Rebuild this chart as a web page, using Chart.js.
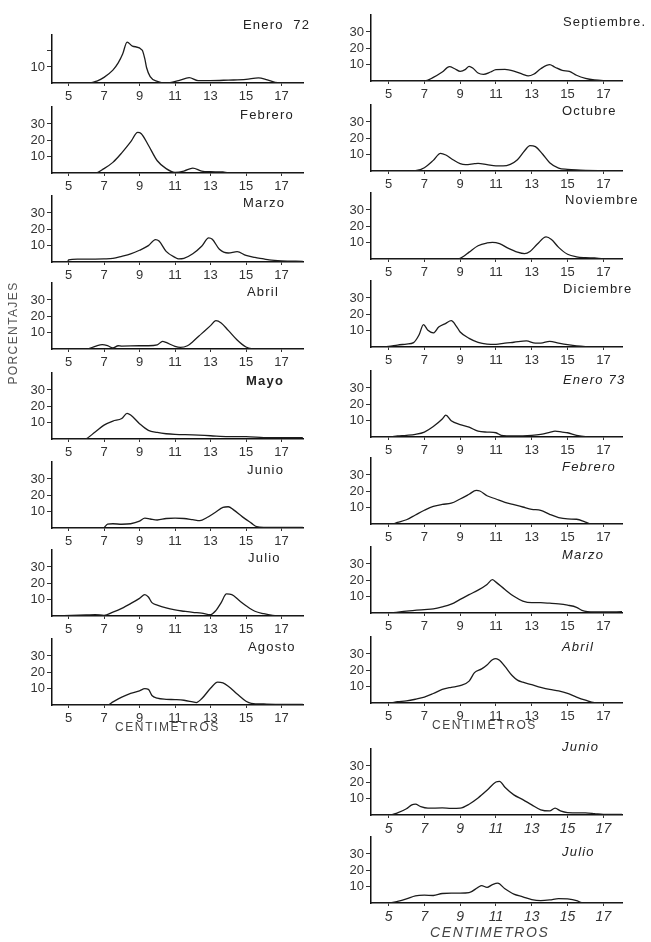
<!DOCTYPE html>
<html><head><meta charset="utf-8">
<script src="https://cdn.jsdelivr.net/npm/chart.js@4.4.0/dist/chart.umd.min.js"></script>
<style>
html,body{margin:0;padding:0;background:#fff;}
#page{position:relative;width:651px;height:942px;overflow:hidden;font-family:"Liberation Sans",Arial,sans-serif;color:#222;}
#page canvas{position:absolute;}
.t{position:absolute;font-size:13px;line-height:16px;letter-spacing:1.2px;white-space:pre;color:#222;}
.it{font-style:italic;}
</style></head><body><div id="page"></div>
<script>
// ---- tick values ----
const xTickValues = [5, 7, 9, 11, 13, 15, 17];
const yTickValues = [10, 20, 30];
const yTickValuesShort = [10, 20];

// ---- series (x = cm, y = %) ----
const enero72X = [4.1, 6.2, 6.6, 7, 7.5, 7.8, 8.05, 8.3, 8.6, 9.15, 9.3, 9.4, 9.6, 10, 10.5, 11.2, 11.8, 12.3, 13, 14, 15, 15.7, 16.2, 16.8, 18.2];
const enero72Y = [0, 0, 1.2, 3.5, 8, 12.5, 18, 25.5, 23, 20.5, 15, 9.5, 4, 1, 0, 1.5, 3.3, 1.5, 1.5, 1.8, 2.2, 3.2, 2, 0.2, 0];

const febrero72X = [4.1, 6.5, 7, 7.5, 8, 8.5, 8.9, 9.1, 9.5, 10, 10.5, 11, 11.5, 12, 12.5, 13, 13.7, 14, 18.2];
const febrero72Y = [0, 0, 2.7, 6.5, 12.3, 19, 24.8, 24, 17, 7.5, 2.7, 0.4, 1.2, 3, 1.2, 0.8, 0.6, 0, 0];

const marzo72X = [4.1, 4.95, 5, 5.5, 6, 7, 7.5, 8, 8.5, 9, 9.5, 9.9, 10.1, 10.5, 11, 11.2, 11.5, 12, 12.5, 12.9, 13.1, 13.5, 14, 14.5, 15, 15.5, 16, 16.3, 17, 18.2];
const marzo72Y = [0, 0, 1.3, 1.7, 1.7, 1.9, 2.2, 3.5, 5, 7.2, 10, 13.7, 12.8, 6.5, 2.8, 1.9, 2.2, 5, 9.6, 14.8, 13.9, 7.8, 5.5, 6.3, 4, 2.8, 1.9, 1.3, 0.7, 0.4];

const abril72X = [4.1, 6, 6.5, 6.9, 7.2, 7.5, 7.8, 8, 9, 9.5, 10, 10.3, 10.5, 11, 11.3, 11.7, 12, 12.5, 13, 13.3, 13.6, 14, 14.5, 15, 15.3, 16, 18.2];
const abril72Y = [0, 0, 1.6, 2.7, 2, 0.6, 2, 1.8, 2, 2, 2.5, 4.7, 4, 1.6, 1, 2, 4.5, 9.4, 14.3, 17.3, 15.9, 11.4, 5.5, 1.2, 0.2, 0, 0];

const mayo72X = [4.1, 5.9, 6.5, 7, 7.5, 8, 8.3, 8.5, 9, 9.5, 10, 10.5, 11, 12, 13, 14, 15, 16, 17, 18.2];
const mayo72Y = [0, 0, 4.3, 8.5, 11, 12.5, 15.7, 14.7, 9.4, 5.3, 4, 3.2, 2.8, 2.5, 2, 1.5, 1.5, 0.9, 0.8, 0.8];

const junio72X = [4.1, 6.95, 7.2, 7.5, 8, 8.5, 9, 9.3, 9.6, 10, 10.5, 11, 11.5, 12, 12.4, 12.8, 13.3, 13.7, 14, 14.3, 14.8, 15.3, 15.6, 16, 17, 18.2];
const junio72Y = [0, 0, 2.3, 2.6, 2.3, 2.6, 4.2, 6, 5.5, 4.9, 5.8, 6, 5.8, 5.1, 4.5, 6.4, 9.8, 12.6, 13, 11.1, 6.8, 3, 0.8, 0.4, 0.4, 0.4];

const julio72X = [4.1, 6, 6.5, 7, 7.5, 8, 8.5, 9, 9.3, 9.5, 9.7, 10, 10.5, 11, 11.5, 12, 12.5, 13, 13.3, 13.6, 13.9, 14.2, 14.6, 15, 15.5, 16, 16.5, 17, 18.2];
const julio72Y = [0, 0.6, 0.8, 0.4, 2.4, 4.7, 7.6, 10.8, 13.1, 11.6, 8.2, 6.7, 4.9, 3.7, 2.9, 2.2, 1.8, 0.8, 3.3, 8.2, 13.5, 13.1, 9.6, 6.3, 2.9, 1.4, 0.4, 0, 0];

const agosto72X = [4.1, 7.2, 7.5, 8, 8.5, 9, 9.3, 9.5, 9.7, 10, 10.5, 11, 11.5, 12, 12.2, 12.5, 13, 13.4, 13.7, 14, 14.5, 15, 15.3, 16, 17, 18.2];
const agosto72Y = [0, 0, 1.9, 4.8, 7.1, 8.7, 10, 9.6, 5.8, 4.2, 3.5, 3.3, 2.9, 1.9, 1.5, 3.8, 10.2, 14, 13.5, 11.5, 6.7, 2.3, 1, 0.6, 0.4, 0.4];

const septiembreX = [4, 7, 7.5, 8, 8.4, 8.7, 9, 9.3, 9.5, 9.7, 10, 10.3, 10.7, 11, 11.5, 12, 12.5, 12.8, 13.1, 13.5, 14, 14.3, 14.7, 15.1, 15.5, 16, 16.5, 17, 18.1];
const septiembreY = [0, 0, 2.2, 5.5, 8.8, 7.5, 5.9, 7.1, 9, 8, 4.9, 4.1, 5.5, 6.9, 7.1, 6.1, 4.1, 3.1, 4.1, 7.5, 10, 8.4, 6.5, 5.9, 3.5, 1.6, 0.6, 0.2, 0];

const octubreX = [4, 6.5, 7, 7.5, 7.9, 8.2, 8.6, 9, 9.3, 9.8, 10, 10.5, 11, 11.4, 11.8, 12.2, 12.6, 12.9, 13.2, 13.6, 14, 14.5, 15, 15.5, 16, 17, 18.1];
const octubreY = [0, 0.2, 2, 6.5, 10.8, 9.8, 6.9, 4.5, 3.9, 4.5, 4.7, 3.9, 3.1, 3.1, 4.1, 6.9, 12.4, 15.5, 14.9, 10.4, 5.1, 1.8, 1, 0.6, 0.4, 0.2, 0];

const noviembreX = [4, 8.9, 9.2, 9.5, 10, 10.5, 10.8, 11.2, 11.7, 12.2, 12.6, 12.9, 13.3, 13.8, 14.1, 14.5, 15, 15.5, 16, 16.5, 17, 18.1];
const noviembreY = [0, 0, 1.7, 4.2, 8.1, 9.8, 10.2, 9.4, 6.5, 4.2, 3.3, 4.6, 9, 13.5, 11.9, 7.1, 2.9, 1.3, 0.8, 0.6, 0.2, 0];

const diciembreX = [4, 5, 5.5, 6, 6.4, 6.7, 6.95, 7.2, 7.5, 7.8, 8.2, 8.5, 8.8, 9, 9.5, 10, 10.5, 11, 11.5, 12, 12.7, 13.2, 13.5, 14, 14.5, 15, 15.5, 16, 17, 18.1];
const diciembreY = [0, 0.4, 1.2, 1.8, 2.7, 7.3, 13.7, 10.2, 8.6, 12.2, 14.5, 16.1, 12.5, 9.2, 5.3, 2.9, 1.8, 1.6, 2.4, 2.9, 3.7, 2.4, 2.4, 3.5, 2.4, 1.4, 0.6, 0.2, 0, 0];

const enero73X = [4, 5, 5.5, 6, 6.5, 7, 7.5, 8, 8.2, 8.5, 9, 9.5, 10, 10.5, 11, 11.3, 12, 13, 13.5, 14, 14.3, 14.7, 15, 15.5, 16, 17, 18.1];
const enero73Y = [0, 0, 0.6, 1, 1.6, 3, 6.4, 11, 13.4, 10, 7.6, 6, 3.6, 3, 2.6, 1, 0.6, 1, 1.6, 2.8, 3.6, 3, 2.6, 1, 0.2, 0, 0];

const febrero73X = [4, 5.2, 5.5, 6, 6.5, 7, 7.5, 8, 8.5, 9, 9.5, 9.9, 10.1, 10.5, 11, 11.5, 12, 12.5, 13, 13.5, 14, 14.5, 15, 15.5, 16, 16.3, 18.1];
const febrero73Y = [0, 0, 1, 2.6, 5.5, 8.4, 10.8, 12, 12.7, 15.3, 18.2, 20.6, 20.2, 17.3, 15.3, 13.3, 11.8, 10.4, 9, 8.4, 5.9, 3.9, 3.1, 2.9, 1.2, 0, 0];

const marzo73X = [4, 5, 6, 7, 7.5, 8, 8.5, 9, 9.5, 10, 10.5, 10.8, 11, 11.5, 12, 12.5, 13, 13.5, 14, 14.5, 15, 15.5, 15.8, 16.5, 17, 18.1];
const marzo73Y = [0, 0, 1.2, 2.1, 2.5, 3.7, 5.4, 8.3, 11.2, 14, 17.5, 20.4, 18.9, 14.4, 10.2, 7.3, 6.3, 6.3, 6, 5.6, 4.8, 3.5, 1.6, 0.6, 0.6, 0.8];

const abril73X = [4, 5, 5.5, 6, 6.5, 7, 7.5, 8, 8.5, 9, 9.5, 9.8, 10.2, 10.5, 10.8, 11, 11.2, 11.5, 11.9, 12.2, 12.5, 13, 13.5, 14, 14.5, 15, 15.5, 16, 16.5, 17, 18.1];
const abril73Y = [0, 0, 0.8, 1.3, 2.3, 3.6, 5.8, 8.3, 9.6, 10.6, 13.4, 18.6, 20.9, 23.3, 26.5, 27.2, 26.1, 22.4, 16.8, 14, 12.7, 11.2, 9.6, 8.3, 7.4, 5.9, 3.6, 1.7, 0.2, 0, 0];

const junio73X = [4, 5, 5.5, 6, 6.3, 6.5, 6.8, 7.2, 8, 8.5, 9, 9.5, 10, 10.5, 11, 11.2, 11.5, 12, 12.5, 13, 13.5, 14, 14.3, 14.6, 15, 16, 16.5, 17, 18.1];
const junio73Y = [0, 0, 1.3, 3.8, 6.2, 6.6, 5.1, 4.2, 4.3, 4, 4.2, 6.6, 10.4, 15.1, 20.2, 20.6, 17, 12.3, 9.4, 6.2, 3.2, 2.5, 4.2, 2.5, 1.5, 1.3, 0.9, 0.4, 0.4];

const julio73X = [4, 5, 5.5, 6, 6.5, 7, 7.5, 8, 8.5, 9, 9.5, 10, 10.2, 10.5, 10.8, 11.1, 11.5, 12, 12.5, 13, 13.5, 14, 14.5, 15, 15.5, 15.8, 16.5, 18.1];
const julio73Y = [0, 0, 1, 2.5, 4.4, 4.8, 4.6, 5.8, 6, 6, 6.3, 9.6, 10.6, 9.6, 11.2, 12.1, 8.7, 5.4, 3.8, 2.1, 1.5, 1.9, 2.7, 2.5, 1.5, 0.2, 0, 0];

// ---- layout table (built from the arrays above) ----
const columns = [
  { axisX: 52, width: 251, xmin: 4.07, xmax: 18.21 },
  { axisX: 371, width: 251, xmin: 4.02, xmax: 18.04 }
];
const PXU = 1.73;
const panels = [
  { title: 'Enero  72', xs: enero72X, ys: enero72Y, col: 0, base: 83, ymax: 30, yt: yTickValuesShort, tx: 243, ty: 25 },
  { title: 'Febrero', xs: febrero72X, ys: febrero72Y, col: 0, base: 173, ymax: 40.5, yt: yTickValues, tx: 240, ty: 115 },
  { title: 'Marzo', xs: marzo72X, ys: marzo72Y, col: 0, base: 262, ymax: 40.5, yt: yTickValues, tx: 243, ty: 203 },
  { title: 'Abril', xs: abril72X, ys: abril72Y, col: 0, base: 349, ymax: 40.5, yt: yTickValues, tx: 247, ty: 292 },
  { title: 'Mayo', xs: mayo72X, ys: mayo72Y, col: 0, base: 439, ymax: 40.5, yt: yTickValues, tx: 246, ty: 381, bold: true },
  { title: 'Junio', xs: junio72X, ys: junio72Y, col: 0, base: 528, ymax: 40.5, yt: yTickValues, tx: 247, ty: 470 },
  { title: 'Julio', xs: julio72X, ys: julio72Y, col: 0, base: 616, ymax: 40.5, yt: yTickValues, tx: 248, ty: 558 },
  { title: 'Agosto', xs: agosto72X, ys: agosto72Y, col: 0, base: 705, ymax: 40.5, yt: yTickValues, tx: 248, ty: 647 },
  { title: 'Septiembre.', xs: septiembreX, ys: septiembreY, col: 1, base: 81, ymax: 40.5, yt: yTickValues, tx: 563, ty: 22 },
  { title: 'Octubre', xs: octubreX, ys: octubreY, col: 1, base: 171, ymax: 40.5, yt: yTickValues, tx: 562, ty: 111 },
  { title: 'Noviembre', xs: noviembreX, ys: noviembreY, col: 1, base: 259, ymax: 40.5, yt: yTickValues, tx: 565, ty: 200 },
  { title: 'Diciembre', xs: diciembreX, ys: diciembreY, col: 1, base: 347, ymax: 40.5, yt: yTickValues, tx: 563, ty: 289 },
  { title: 'Enero 73', xs: enero73X, ys: enero73Y, col: 1, base: 437, ymax: 40.5, yt: yTickValues, tx: 563, ty: 380, italic: true },
  { title: 'Febrero', xs: febrero73X, ys: febrero73Y, col: 1, base: 524, ymax: 40.5, yt: yTickValues, tx: 562, ty: 467, italic: true },
  { title: 'Marzo', xs: marzo73X, ys: marzo73Y, col: 1, base: 613, ymax: 40.5, yt: yTickValues, tx: 562, ty: 555, italic: true },
  { title: 'Abril', xs: abril73X, ys: abril73Y, col: 1, base: 703, ymax: 40.5, yt: yTickValues, tx: 562, ty: 647, italic: true },
  { title: 'Junio', xs: junio73X, ys: junio73Y, col: 1, base: 815, ymax: 40.5, yt: yTickValues, tx: 562, ty: 747, italic: true, itTicks: true },
  { title: 'Julio', xs: julio73X, ys: julio73Y, col: 1, base: 903, ymax: 40.5, yt: yTickValues, tx: 562, ty: 852, italic: true, itTicks: true }
];

const page = document.getElementById('page');
const PADT = 6, PADR = 6, YW = 40, XH = 26;
const FONT = '"Liberation Sans", Arial, sans-serif';

function addText(txt, left, top, cls, extra) {
  const d = document.createElement('div');
  d.className = 't' + (cls ? ' ' + cls : '');
  d.textContent = txt;
  d.style.left = left + 'px';
  d.style.top = top + 'px';
  if (extra) Object.assign(d.style, extra);
  page.appendChild(d);
  return d;
}

panels.forEach(p => {
  const c = columns[p.col];
  const chartH = Math.round(p.ymax * PXU);
  const cv = document.createElement('canvas');
  const w = YW + c.width + PADR, h = PADT + chartH + XH;
  cv.width = w; cv.height = h;
  cv.style.width = w + 'px'; cv.style.height = h + 'px';
  cv.style.left = (c.axisX - YW) + 'px';
  cv.style.top = (p.base - chartH - PADT) + 'px';
  page.appendChild(cv);
  const pts = p.xs.map((x, i) => ({ x: x, y: p.ys[i] }));
  new Chart(cv, {
    type: 'line',
    data: { datasets: [{ data: pts, borderColor: '#1c1c1c', borderWidth: 1.3, pointRadius: 0, fill: false, cubicInterpolationMode: 'monotone', tension: 0.4 }] },
    options: {
      responsive: false, animation: false, devicePixelRatio: 1,
      layout: { padding: { top: PADT, right: PADR, left: 0, bottom: 0 }, autoPadding: false },
      plugins: { legend: { display: false }, tooltip: { enabled: false } },
      scales: {
        x: {
          type: 'linear', min: c.xmin, max: c.xmax,
          afterBuildTicks: s => { s.ticks = xTickValues.map(v => ({ value: v })); },
          afterFit: s => { s.height = XH; },
          grid: { display: true, drawOnChartArea: false, drawTicks: true, tickLength: 3, color: '#333', lineWidth: 1 },
          border: { display: true, color: '#111', width: 1.5 },
          ticks: { autoSkip: false, maxRotation: 0, padding: 3, color: '#333',
                   font: { family: FONT, size: p.itTicks ? 14 : 13, style: p.itTicks ? 'italic' : 'normal' },
                   callback: v => String(v) }
        },
        y: {
          min: 0, max: p.ymax,
          afterBuildTicks: s => { s.ticks = p.yt.map(v => ({ value: v })); },
          afterFit: s => { s.width = YW; },
          grid: { display: true, drawOnChartArea: false, drawTicks: true, tickLength: 5, color: '#333', lineWidth: 1 },
          border: { display: true, color: '#111', width: 1.5 },
          ticks: { autoSkip: false, padding: 2, color: '#333', font: { family: FONT, size: 13 },
                   callback: v => (p.yt === yTickValuesShort && v === 20) ? '' : String(v) }
        }
      }
    }
  });
  const t = addText(p.title, p.tx, p.ty - 8, p.italic ? 'it' : '');
  if (p.bold) t.style.fontWeight = 'bold';
});

// axis titles
addText('PORCENTAJES', 13 - 60, 333 - 8, '', { width: '120px', textAlign: 'center', transform: 'rotate(-90deg)', transformOrigin: '60px 8px', color: '#555', fontSize: '12px', letterSpacing: '1.4px' });
addText('CENTIMETROS', 115, 727 - 8, '', { fontSize: '12px', letterSpacing: '1.6px', color: '#444' });
addText('CENTIMETROS', 432, 725 - 8, '', { fontSize: '12px', letterSpacing: '1.6px', color: '#444' });
addText('CENTIMETROS', 430, 933 - 9, 'it', { fontSize: '14px', letterSpacing: '1.6px', color: '#444' });
</script></body></html>
